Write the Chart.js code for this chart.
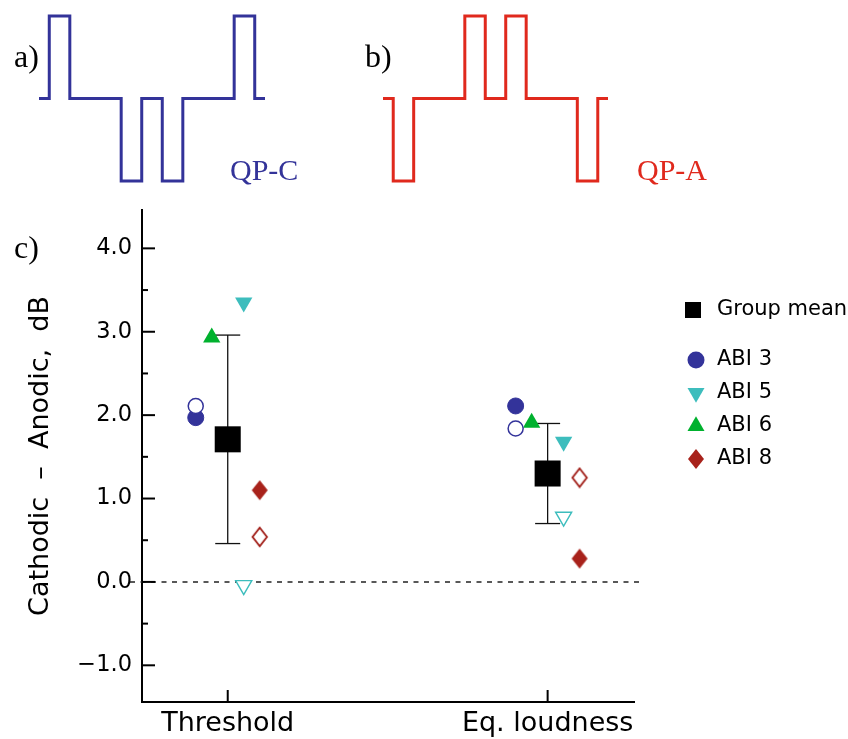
<!DOCTYPE html>
<html><head><meta charset="utf-8">
<script src="https://cdn.jsdelivr.net/npm/chart.js@4.4.1/dist/chart.umd.min.js"></script>
<style>
html,body{margin:0;padding:0;background:#fff;}
#wrap{position:relative;width:848px;height:739px;overflow:hidden;background:#fff;}
canvas{position:absolute;}
.lbl{position:absolute;font-family:"Liberation Serif","Times New Roman",serif;white-space:nowrap;line-height:1;}
</style></head><body>
<div id="wrap">
<canvas id="main" width="848" height="739" style="left:0;top:0"></canvas>
<canvas id="waveA" width="234" height="173" style="left:35px;top:12px"></canvas>
<canvas id="waveB" width="233" height="173" style="left:379px;top:12px"></canvas>
<div class="lbl" style="left:14px;top:40px;font-size:32px;color:#000">a)</div>
<div class="lbl" style="left:365px;top:40px;font-size:32px;color:#000">b)</div>
<div class="lbl" style="left:14px;top:231px;font-size:32px;color:#000">c)</div>
<div class="lbl" style="left:230px;top:155px;font-size:30px;color:#333399">QP-C</div>
<div class="lbl" style="left:637px;top:155px;font-size:30px;color:#e0291d">QP-A</div>
</div>
<script>
// ---------- data ----------
const categories = ['Threshold', 'Eq. loudness'];
const yTickValues = [-1, 0, 1, 2, 3, 4];
const groupMean = [1.71, 1.30];
const groupErr = [1.25, 0.60];
const abi3Filled = [1.97, 2.11];
const abi3Open = [2.11, 1.84];
const abi5Filled = [3.35, 1.68];
const abi5Open = [-0.04, 0.78];
const abi6Filled = [2.93, 1.91];
const abi8Filled = [1.10, 0.28];
const abi8Open = [0.54, 1.25];
const legendLabels = ['Group mean', 'ABI 3', 'ABI 5', 'ABI 6', 'ABI 8'];
const waveTime = [0, 0.5, 1.5, 4, 5, 6, 7, 9.5, 10.5, 11];
const waveQPC = [0, 1, 0, -1, 0, -1, 0, 1, 0, 0];
const waveQPA = [0, -1, 0, 1, 0, 1, 0, -1, 0, 0];

// ---------- styles ----------
const C = {blue:'#33339a', cyan:'#3dbdbd', green:'#00b12e', red:'#a8221b', redOpen:'#a01c16'};
const offs = {abi3:-0.1, abi6:-0.05, abi5:0.05, abi8:0.1};
const FONT = 'DejaVu Sans';

function diamond(fill, stroke, lw, hw, hh){
  const c = document.createElement('canvas');
  c.width = 2*hw + 4; c.height = 2*hh + 4;
  const g = c.getContext('2d');
  const cx = c.width/2, cy = c.height/2;
  g.beginPath(); g.moveTo(cx, cy-hh); g.lineTo(cx+hw, cy); g.lineTo(cx, cy+hh); g.lineTo(cx-hw, cy); g.closePath();
  g.fillStyle = fill; g.fill();
  if (stroke){ g.lineWidth = lw; g.strokeStyle = stroke; g.stroke(); }
  return c;
}
const diaFilled = diamond(C.red, null, 0, 8, 10);
const diaOpen = diamond('#fff', C.redOpen, 1.8, 7.2, 9.2);

const pts = (arr, off) => arr.map((v, i) => ({x: i + 1 + off, y: v}));

const styles = {
  mean:{pointStyle:'rect', pointRadius:18.4, pointBackgroundColor:'#000', pointBorderWidth:0, rotation:0},
  abi3f:{pointStyle:'circle', pointRadius:8, pointBackgroundColor:C.blue, pointBorderColor:C.blue, pointBorderWidth:1},
  abi3o:{pointStyle:'circle', pointRadius:7.5, pointBackgroundColor:'#fff', pointBorderColor:C.blue, pointBorderWidth:1.5},
  abi5f:{pointStyle:'triangle', pointRotation:180, pointRadius:10, pointBackgroundColor:C.cyan, pointBorderWidth:0},
  abi5o:{pointStyle:'triangle', pointRotation:180, pointRadius:9.3, pointBackgroundColor:'#fff', pointBorderColor:C.cyan, pointBorderWidth:1.4},
  abi6f:{pointStyle:'triangle', pointRadius:10, pointBackgroundColor:C.green, pointBorderWidth:0},
  abi8f:{pointStyle:diaFilled, pointRadius:10},
  abi8o:{pointStyle:diaOpen, pointRadius:10}
};

const datasets = [
  Object.assign({label:'ABI 3 open', data:pts(abi3Open, offs.abi3)}, styles.abi3o),
  Object.assign({label:'ABI 5 open', data:pts(abi5Open, offs.abi5)}, styles.abi5o),
  Object.assign({label:'ABI 8 open', data:pts(abi8Open, offs.abi8)}, styles.abi8o),
  Object.assign({label:'ABI 3', data:pts(abi3Filled, offs.abi3)}, styles.abi3f),
  Object.assign({label:'ABI 6', data:pts(abi6Filled, offs.abi6)}, styles.abi6f),
  Object.assign({label:'ABI 5', data:pts(abi5Filled, offs.abi5)}, styles.abi5f),
  Object.assign({label:'ABI 8', data:pts(abi8Filled, offs.abi8)}, styles.abi8f),
  Object.assign({label:'Group mean', data:pts(groupMean, 0)}, styles.mean)
];

const legendStyle = {
  markerX:696, textX:717, rows:[310, 360, 393, 426, 459],
  markers:[
    {style:'rect', r:11.3, fill:'#000', rot:0, dx:-3},
    {style:'circle', r:8.5, fill:C.blue, rot:0, dx:0},
    {style:'triangle', r:9.8, fill:C.cyan, rot:180, dx:0},
    {style:'triangle', r:9.8, fill:C.green, rot:0, dx:0},
    {style:diaFilled, r:10, fill:C.red, rot:0, dx:0}
  ]
};

function line(ctx, x1, y1, x2, y2){ ctx.beginPath(); ctx.moveTo(x1, y1); ctx.lineTo(x2, y2); ctx.stroke(); }

const decor = {
  id:'decor',
  beforeDatasetsDraw(chart){
    const {ctx, chartArea:a} = chart;
    const x = chart.scales.x, y = chart.scales.y;
    ctx.save();
    const y0 = y.getPixelForValue(0);
    ctx.setLineDash([5, 5.5]); ctx.lineWidth = 1.5; ctx.strokeStyle = '#222';
    line(ctx, a.left - 12, y0, a.right + 9, y0);
    ctx.setLineDash([]);
    ctx.strokeStyle = '#000'; ctx.lineWidth = 2;
    yTickValues.forEach(v => { const p = y.getPixelForValue(v); line(ctx, a.left, p, a.left + 13, p); });
    yTickValues.forEach(v => { const m = v + 0.5; if (m < y.max) { const p = y.getPixelForValue(m); line(ctx, a.left, p, a.left + 6, p); } });
    categories.forEach((c, i) => { const p = x.getPixelForValue(i + 1); line(ctx, p, a.bottom, p, a.bottom - 12); });
    ctx.lineWidth = 1.3; ctx.strokeStyle = '#111';
    groupMean.forEach((m, i) => {
      const px = x.getPixelForValue(i + 1);
      const t = y.getPixelForValue(m + groupErr[i]);
      const b = y.getPixelForValue(m - groupErr[i]);
      line(ctx, px, t, px, b);
      line(ctx, px - 12.5, t, px + 12.5, t);
      line(ctx, px - 12.5, b, px + 12.5, b);
    });
    ctx.restore();
  },
  afterDraw(chart){
    const ctx = chart.ctx;
    ctx.save();
    legendLabels.forEach((lab, i) => {
      const m = legendStyle.markers[i];
      const yy = legendStyle.rows[i];
      ctx.fillStyle = m.fill; ctx.strokeStyle = m.fill;
      Chart.helpers.drawPoint(ctx, {pointStyle:m.style, radius:m.r, rotation:m.rot, borderWidth:0}, legendStyle.markerX + m.dx, yy);
      ctx.fillStyle = '#000';
      ctx.font = '21px "' + FONT + '"';
      ctx.textBaseline = 'middle'; ctx.textAlign = 'left';
      ctx.fillText(lab, legendStyle.textX, yy);
    });
    ctx.restore();
  }
};

new Chart(document.getElementById('main'), {
  type:'scatter',
  data:{datasets},
  options:{
    responsive:false, animation:false, events:[],
    layout:{padding:{top:210, right:214, left:0, bottom:0}},
    plugins:{legend:{display:false}, tooltip:{enabled:false}},
    scales:{
      x:{
        type:'linear', min:0.732, max:2.27,
        afterBuildTicks:s => { s.ticks = categories.map((c, i) => ({value:i + 1})); },
        ticks:{callback:v => categories[Math.round(v) - 1] || '', autoSkip:false, maxRotation:0, padding:6,
               font:{family:FONT, size:27}, color:'#000'},
        grid:{display:false, drawTicks:false},
        border:{display:true, color:'#000', width:2},
        afterFit:s => { s.height = 37; }
      },
      y:{
        type:'linear', min:-1.44, max:4.46,
        afterBuildTicks:s => { s.ticks = yTickValues.map(v => ({value:v})); },
        ticks:{callback:v => Number(v).toFixed(1).replace('-', '\u2212'), padding:10,
               font:{family:FONT, size:22.5}, color:'#000'},
        grid:{display:false, drawTicks:false},
        border:{display:true, color:'#000', width:2},
        title:{display:true, text:'Cathodic  \u2013  Anodic,  dB', color:'#000',
               font:{family:FONT, size:27}, padding:{top:25, bottom:0}},
        afterFit:s => { s.width = 142; }
      }
    }
  },
  plugins:[decor]
});

function wave(id, levels, color){
  new Chart(document.getElementById(id), {
    type:'line',
    data:{datasets:[{data:waveTime.map((t, i) => ({x:t, y:levels[i]})), borderColor:color, borderWidth:3,
      pointRadius:0, stepped:'before', fill:false, borderJoinStyle:'miter', borderCapStyle:'butt', clip:false}]},
    options:{responsive:false, animation:false, events:[], layout:{padding:4},
      plugins:{legend:{display:false}, tooltip:{enabled:false}},
      scales:{x:{type:'linear', display:false, min:0, max:11}, y:{type:'linear', display:false, min:-1, max:1}}}
  });
}
wave('waveA', waveQPC, '#333399');
wave('waveB', waveQPA, '#e0291d');
</script>
</body></html>
